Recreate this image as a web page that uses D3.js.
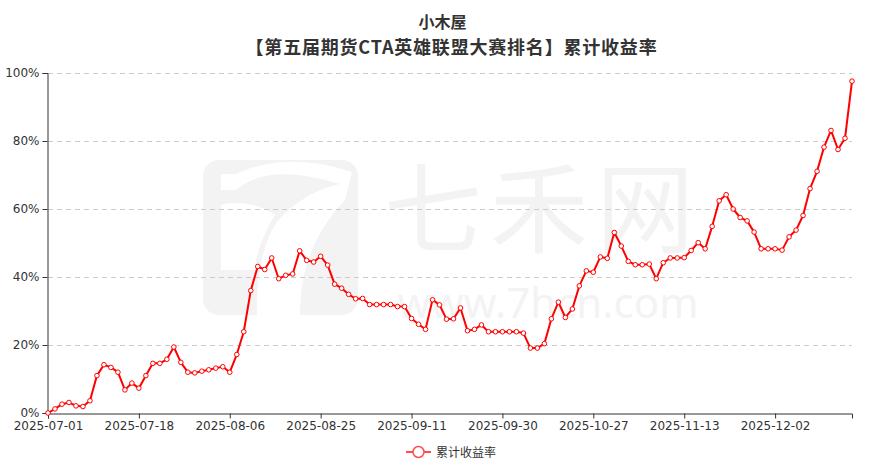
<!DOCTYPE html>
<html>
<head>
<meta charset="utf-8">
<script src="https://cdn.jsdelivr.net/npm/d3@7"></script>
<style>
  body { margin: 0; background: #fff; }
  svg { display: block; font-family: "DejaVu Sans", "Noto Sans CJK SC", sans-serif; }
</style>
</head>
<body>
<div id="chart"></div>
<script>
var width = 879,
    height = 473;

var titleMain = "小木屋";
var titleSub = "【第五届期货CTA英雄联盟大赛排名】累计收益率";
var seriesName = "累计收益率";

// trading days (weekends and the October holiday excluded)
var dates = [
  "2025-07-01","2025-07-02","2025-07-03","2025-07-04","2025-07-07","2025-07-08","2025-07-09","2025-07-10","2025-07-11",
  "2025-07-14","2025-07-15","2025-07-16","2025-07-17","2025-07-18","2025-07-21","2025-07-22","2025-07-23","2025-07-24",
  "2025-07-25","2025-07-28","2025-07-29","2025-07-30","2025-07-31","2025-08-01","2025-08-04","2025-08-05","2025-08-06",
  "2025-08-07","2025-08-08","2025-08-11","2025-08-12","2025-08-13","2025-08-14","2025-08-15","2025-08-18","2025-08-19",
  "2025-08-20","2025-08-21","2025-08-22","2025-08-25","2025-08-26","2025-08-27","2025-08-28","2025-08-29","2025-09-01",
  "2025-09-02","2025-09-03","2025-09-04","2025-09-05","2025-09-08","2025-09-09","2025-09-10","2025-09-11","2025-09-12",
  "2025-09-15","2025-09-16","2025-09-17","2025-09-18","2025-09-19","2025-09-22","2025-09-23","2025-09-24","2025-09-25",
  "2025-09-26","2025-09-29","2025-09-30","2025-10-09","2025-10-10","2025-10-13","2025-10-14","2025-10-15","2025-10-16",
  "2025-10-17","2025-10-20","2025-10-21","2025-10-22","2025-10-23","2025-10-24","2025-10-27","2025-10-28","2025-10-29",
  "2025-10-30","2025-10-31","2025-11-03","2025-11-04","2025-11-05","2025-11-06","2025-11-07","2025-11-10","2025-11-11",
  "2025-11-12","2025-11-13","2025-11-14","2025-11-17","2025-11-18","2025-11-19","2025-11-20","2025-11-21","2025-11-24",
  "2025-11-25","2025-11-26","2025-11-27","2025-11-28","2025-12-01","2025-12-02","2025-12-03","2025-12-04","2025-12-05",
  "2025-12-08","2025-12-09","2025-12-10","2025-12-11","2025-12-12","2025-12-15","2025-12-16","2025-12-17"
];

// cumulative return, percent
var returns = [
  0, 1.2, 2.6, 3.1, 2.1, 1.9, 3.6, 11.0, 14.2, 13.4,
  12.0, 6.8, 8.8, 7.3, 11.0, 14.6, 14.6, 15.8, 19.4, 14.9,
  12.0, 11.8, 12.3, 12.7, 13.2, 13.6, 12.0, 17.2, 23.9, 36.0,
  43.1, 42.2, 45.6, 39.5, 40.5, 40.9, 47.7, 44.9, 44.4, 46.1,
  43.5, 37.9, 36.7, 34.9, 33.6, 33.7, 31.9, 31.9, 31.9, 31.9,
  31.3, 31.3, 27.8, 26.1, 24.6, 33.3, 31.8, 27.6, 27.7, 30.9,
  24.2, 24.6, 25.9, 23.9, 23.9, 23.9, 23.9, 23.9, 23.5, 19.1,
  19.1, 20.4, 27.7, 32.6, 28.1, 30.6, 37.4, 41.8, 41.4, 45.9,
  45.5, 53.1, 49.1, 44.6, 43.6, 43.6, 43.8, 39.5, 44.2, 45.6,
  45.6, 45.7, 47.8, 50.1, 48.3, 54.9, 62.4, 64.2, 60.0, 57.5,
  56.5, 53.2, 48.3, 48.3, 48.3, 47.9, 51.8, 53.8, 58.1, 66.0,
  71.1, 78.2, 83.1, 77.5, 80.8, 97.6
];

var yTicks = [0, 20, 40, 60, 80, 100];
var labelEvery = 13;

var margin = {top: 73, right: 27, bottom: 60, left: 48};

var svg = d3.select("#chart").append("svg")
    .attr("width", width)
    .attr("height", height);

var x = d3.scalePoint()
    .domain(dates)
    .range([margin.left, width - margin.right]);

var y = d3.scaleLinear()
    .domain([0, 100])
    .range([height - margin.bottom, margin.top]);

// watermark
var wm = svg.append("g").attr("class", "watermark");
wm.append("rect")
    .attr("x", 203).attr("y", 160)
    .attr("width", 155).attr("height", 155)
    .attr("rx", 16)
    .attr("fill", "#f3f3f3");
wm.append("path")
    .attr("d", "M221,174 L221,190 L236,190 C262,168 300,172 340,184 C318,188 290,204 275,225 C262,246 256,280 257,315 L300,315 C300,272 312,235 345,200 L352,172 C310,158 270,158 236,174 Z")
    .attr("fill", "#fff");
wm.append("path")
    .attr("d", "M221,205 C240,200 262,205 275,215 C262,235 255,260 255,270 L221,270 Z")
    .attr("fill", "#fff");
wm.append("text")
    .attr("x", 543).attr("y", 245)
    .attr("text-anchor", "middle")
    .attr("font-family", "Noto Sans CJK SC")
    .attr("font-size", 98)
    .attr("letter-spacing", 8)
    .attr("fill", "#f3f3f3")
    .text("七禾网");
wm.append("text")
    .attr("x", 548).attr("y", 318)
    .attr("text-anchor", "middle")
    .attr("font-family", "Noto Sans")
    .attr("font-size", 42)
    .attr("fill", "#f3f3f3")
    .text("www.7hcn.com");

// grid
svg.append("g")
    .selectAll("line")
    .data(yTicks.filter(function(d) { return d > 0; }))
    .enter().append("line")
    .attr("x1", margin.left)
    .attr("x2", width - margin.right)
    .attr("y1", function(d) { return y(d) + 0.5; })
    .attr("y2", function(d) { return y(d) + 0.5; })
    .attr("stroke", "#ccc")
    .attr("stroke-dasharray", "5,4");

// axes
var xAxis = d3.axisBottom(x)
    .tickValues(dates.filter(function(d, i) { return i % labelEvery === 0; }))
    .tickSize(5)
    .tickPadding(3);

var gx = svg.append("g")
    .attr("transform", "translate(0," + (height - margin.bottom + 0.5) + ")")
    .call(xAxis);

var yAxis = d3.axisLeft(y)
    .tickValues(yTicks)
    .tickSize(5)
    .tickPadding(3)
    .tickFormat(function(d) { return d + "%"; });

var gy = svg.append("g")
    .attr("transform", "translate(" + (margin.left - 0.5) + ",0)")
    .call(yAxis);

[gx, gy].forEach(function(g) {
    g.select(".domain").attr("stroke", "#333");
    g.selectAll(".tick line").attr("stroke", "#333");
    g.selectAll(".tick text")
        .attr("fill", "#333")
        .attr("font-size", 12)
        .attr("font-family", "DejaVu Sans");
});

// line
var line = d3.line()
    .x(function(d, i) { return x(dates[i]); })
    .y(function(d) { return y(d); });

svg.append("path")
    .datum(returns)
    .attr("d", line)
    .attr("fill", "none")
    .attr("stroke", "#ff0000")
    .attr("stroke-width", 2)
    .attr("stroke-linejoin", "round");

svg.append("g")
    .selectAll("circle")
    .data(returns)
    .enter().append("circle")
    .attr("cx", function(d, i) { return x(dates[i]); })
    .attr("cy", function(d) { return y(d); })
    .attr("r", 2.3)
    .attr("fill", "#fff")
    .attr("stroke", "#ff0000")
    .attr("stroke-width", 1);

// title
svg.append("text")
    .attr("x", width / 2 + 3)
    .attr("y", 28.3)
    .attr("text-anchor", "middle")
    .attr("font-family", "Noto Sans CJK SC")
    .attr("font-weight", "bold")
    .attr("font-size", 16)
    .attr("fill", "#333")
    .text(titleMain);
svg.append("text")
    .attr("x", width / 2 + 12)
    .attr("y", 54)
    .attr("text-anchor", "middle")
    .attr("font-family", "Noto Sans CJK SC")
    .attr("font-weight", "bold")
    .attr("font-size", 18)
    .attr("letter-spacing", 0.8)
    .attr("fill", "#333")
    .text(titleSub);

// legend
var lg = svg.append("g").attr("transform", "translate(406,452)");
lg.append("line")
    .attr("x1", 0).attr("x2", 25)
    .attr("stroke", "#ff4d4d")
    .attr("stroke-width", 2);
lg.append("circle")
    .attr("cx", 12.5).attr("r", 5.5)
    .attr("fill", "#fff")
    .attr("stroke", "#ff4d4d")
    .attr("stroke-width", 1.5);
lg.append("text")
    .attr("x", 30).attr("y", 4.5)
    .attr("font-family", "Noto Sans CJK SC")
    .attr("font-size", 12)
    .attr("fill", "#333")
    .text(seriesName);
</script>
</body>
</html>
